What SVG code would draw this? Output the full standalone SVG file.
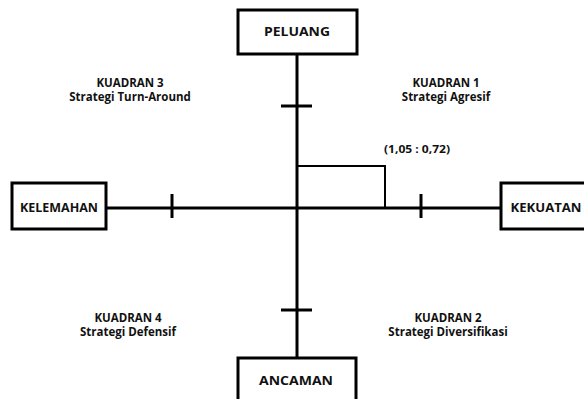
<svg xmlns="http://www.w3.org/2000/svg" width="584" height="399" viewBox="0 0 584 399">
<style>
.box{fill:#fff;stroke:#000;stroke-width:3}
.lbl{font-family:"Open Sans","Liberation Sans",sans-serif;font-weight:bold;font-size:11.5px;fill:#111;text-anchor:middle}
.q{font-family:"Open Sans","Liberation Sans",sans-serif;font-weight:bold;font-size:11.5px;fill:#111;text-anchor:middle}
.ax{stroke:#000;stroke-width:3;fill:none}
.thin{stroke:#000;stroke-width:2;fill:none}
</style>
<rect width="584" height="399" fill="#fff"/>
<g id="connectors">
<line class="ax" x1="297" y1="54" x2="297" y2="358"/>
<line class="ax" x1="106" y1="208" x2="501" y2="208"/>
<line class="ax" x1="281" y1="106" x2="312" y2="106"/>
<line class="ax" x1="281" y1="310" x2="312" y2="310"/>
<line class="ax" x1="172" y1="194" x2="172" y2="218"/>
<line class="ax" x1="421" y1="194" x2="421" y2="218"/>
<polyline class="thin" points="297,166 385,166 385,208"/>
</g>
<g id="peluang"><rect class="box" x="238" y="10" width="119" height="44"/><text class="lbl" x="297" y="36" textLength="66" lengthAdjust="spacingAndGlyphs">PELUANG</text></g>
<g id="kelemahan"><rect class="box" x="12" y="183" width="94" height="46"/><text class="lbl" x="59" y="212" textLength="78" lengthAdjust="spacingAndGlyphs">KELEMAHAN</text></g>
<g id="kekuatan"><rect class="box" x="501" y="183" width="95" height="46"/><text class="lbl" x="546" y="212" textLength="71" lengthAdjust="spacingAndGlyphs">KEKUATAN</text></g>
<g id="ancaman"><rect class="box" x="238" y="358" width="118" height="50"/><text class="lbl" x="296" y="385" textLength="74" lengthAdjust="spacingAndGlyphs">ANCAMAN</text></g>
<g id="kuadran3"><text class="q" x="130" y="87">KUADRAN 3</text><text class="q" x="130" y="101">Strategi Turn-Around</text></g>
<g id="kuadran1"><text class="q" x="446" y="87">KUADRAN 1</text><text class="q" x="446" y="101">Strategi Agresif</text></g>
<g id="kuadran4"><text class="q" x="128" y="322">KUADRAN 4</text><text class="q" x="128" y="336">Strategi Defensif</text></g>
<g id="kuadran2"><text class="q" x="448" y="322">KUADRAN 2</text><text class="q" x="448" y="336">Strategi Diversifikasi</text></g>
<g id="point"><text class="q" x="417" y="153" style="font-size:10.5px" textLength="66" lengthAdjust="spacingAndGlyphs">(1,05 : 0,72)</text></g>
</svg>
